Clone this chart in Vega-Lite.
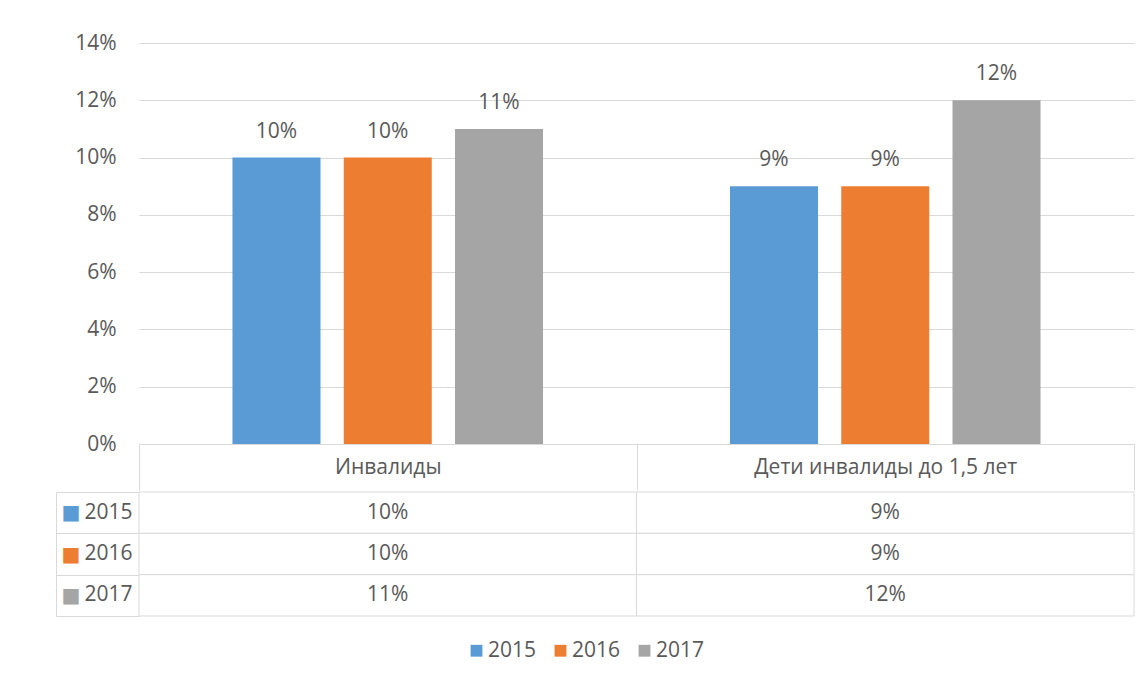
{
  "$schema": "https://vega.github.io/schema/vega-lite/v6.json",
  "background": "white",
  "padding": {"left": 55, "top": 32, "right": 0, "bottom": 10},
  "config": {
    "font": "Open Sans",
    "view": {"stroke": null},
    "axis": {"labelFont": "Open Sans", "labelFontSize": 21, "labelColor": "#595959", "title": null},
    "legend": {"labelFont": "Open Sans"}
  },
  "data": {
    "values": [
      {"category": "Инвалиды", "year": "2015", "value": 0.10},
      {"category": "Инвалиды", "year": "2016", "value": 0.10},
      {"category": "Инвалиды", "year": "2017", "value": 0.11},
      {"category": "Дети инвалиды до 1,5 лет", "year": "2015", "value": 0.09},
      {"category": "Дети инвалиды до 1,5 лет", "year": "2016", "value": 0.09},
      {"category": "Дети инвалиды до 1,5 лет", "year": "2017", "value": 0.12}
    ]
  },
  "spacing": 0,
  "vconcat": [
    {
      "width": 995,
      "height": 401,
      "encoding": {
        "x": {
          "field": "category", "type": "nominal",
          "sort": ["Инвалиды", "Дети инвалиды до 1,5 лет"],
          "scale": {"paddingInner": 0, "paddingOuter": 0},
          "axis": {
            "labelAngle": 0, "tickBand": "extent", "tickSize": 46,
            "tickColor": "#d9d9d9", "domainColor": "#d9d9d9", "labelLimit": 0,
            "labelPadding": -23, "labelBaseline": "middle", "title": null
          }
        },
        "xOffset": {
          "field": "year", "type": "nominal",
          "scale": {"paddingInner": 0.209, "paddingOuter": 0.84}
        },
        "y": {
          "field": "value", "type": "quantitative",
          "scale": {"domain": [0, 0.14]},
          "axis": {
            "values": [0, 0.02, 0.04, 0.06, 0.08, 0.10, 0.12, 0.14],
            "format": ".0%", "domain": false, "ticks": false,
            "labelPadding": 23, "gridColor": "#d9d9d9", "title": null
          }
        }
      },
      "layer": [
        {
          "mark": {"type": "bar"},
          "encoding": {
            "color": {
              "field": "year", "type": "nominal",
              "scale": {"domain": ["2015", "2016", "2017"], "range": ["#5b9bd5", "#ed7d31", "#a5a5a5"]},
              "legend": {
                "orient": "none", "legendX": 327, "legendY": 597,
                "direction": "horizontal", "title": null,
                "symbolType": "square", "symbolSize": 140, "symbolStrokeWidth": 0,
                "labelFontSize": 21, "labelColor": "#595959",
                "columnPadding": 13, "labelOffset": 1
              }
            }
          }
        },
        {
          "mark": {"type": "text", "dy": -26, "fontSize": 21, "color": "#595959", "font": "Open Sans"},
          "encoding": {"text": {"field": "value", "type": "quantitative", "format": ".0%"}}
        }
      ]
    },
    {
      "width": 995,
      "height": 124,
      "encoding": {
        "x": {
          "field": "category", "type": "nominal",
          "sort": ["Инвалиды", "Дети инвалиды до 1,5 лет"],
          "scale": {"paddingInner": 0, "paddingOuter": 0},
          "axis": null
        }
      },
      "layer": [
        {
          "mark": {"type": "rect", "fill": "white", "stroke": "#d9d9d9", "strokeWidth": 1},
          "encoding": {
            "y": {
              "field": "year", "type": "nominal",
              "scale": {"paddingInner": 0, "paddingOuter": 0},
              "axis": {
                "orient": "left", "offset": 83, "domainColor": "#d9d9d9",
                "ticks": false, "labelPadding": -76, "labelAlign": "right", "labelBaseline": "middle",
                "title": null
              }
            }
          }
        },
        {
          "mark": {"type": "text", "fontSize": 21, "color": "#595959", "font": "Open Sans"},
          "encoding": {
            "y": {
              "field": "year", "type": "nominal",
              "scale": {"paddingInner": 0, "paddingOuter": 0},
              "axis": {
                "orient": "left", "tickBand": "extent", "tickSize": 83, "tickColor": "#d9d9d9",
                "domain": false, "labelExpr": "datum.label == '' ? '' : '■'", "labelFont": "DejaVu Sans",
                "labelFontSize": {"condition": {"test": "datum.label == ''", "value": 0}, "value": 20},
                "labelPadding": -14.5, "labelAlign": "center", "labelBaseline": "middle",
                "labelColor": {
                  "condition": [
                    {"test": "datum.value == '2015'", "value": "#5b9bd5"},
                    {"test": "datum.value == '2016'", "value": "#ed7d31"}
                  ],
                  "value": "#a5a5a5"
                },
                "title": null
              }
            },
            "text": {"field": "value", "type": "quantitative", "format": ".0%"}
          }
        }
      ],
      "resolve": {"axis": {"y": "independent"}}
    }
  ]
}
